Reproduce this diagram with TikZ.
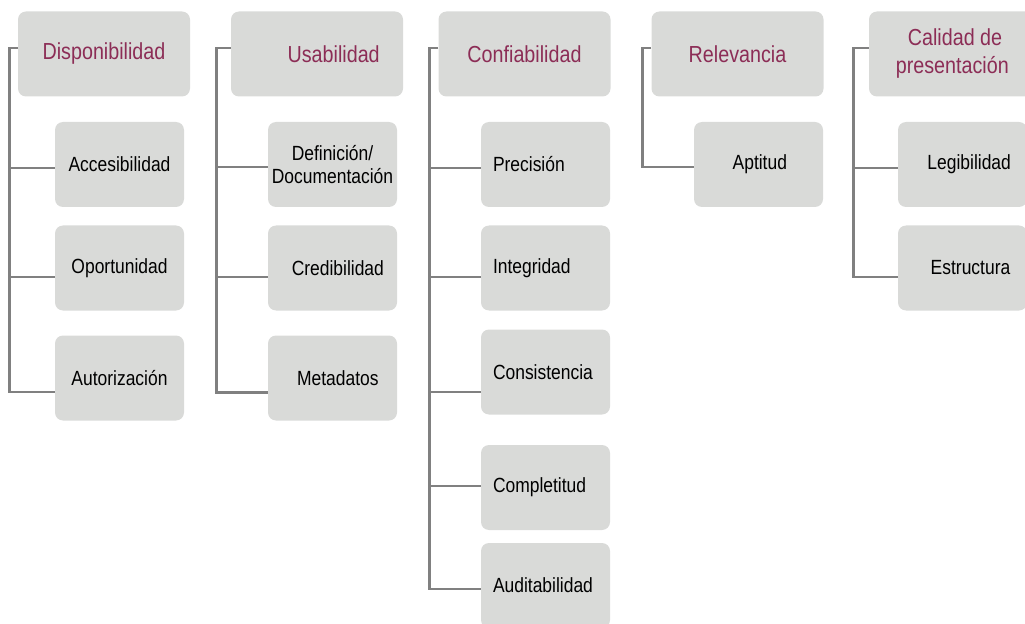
\documentclass[tikz,border=0pt]{standalone}
\usepackage{fontspec}
\setmainfont{Liberation Sans}[FakeStretch=0.85]
\definecolor{boxgray}{HTML}{D9DAD8}
\definecolor{linegray}{HTML}{808080}
\definecolor{maroon}{HTML}{8C2D56}
\tikzset{
  titlebox/.style={rectangle,rounded corners=6pt,fill=boxgray,minimum width=129pt,minimum height=63.75pt,
    inner sep=0pt,align=center,text=maroon,font=\fontsize{17.4}{21}\selectfont},
  itembox/.style={rectangle,rounded corners=6pt,fill=boxgray,minimum width=96.75pt,minimum height=63.75pt,
    inner sep=0pt,align=center,font=\fontsize{15.4}{17.4}\selectfont},
  leftbox/.style={itembox,text width=78.75pt,inner xsep=9pt,align=left},
  conn/.style={draw=linegray,line width=2pt}
}
\begin{document}
\begin{tikzpicture}[x=0.75pt,y=-0.75pt]
\useasboundingbox (0,0) rectangle (1025,624);
% Disponibilidad
\node[titlebox] (dispo) at (104,54) {Disponibilidad};
\node[itembox] (acc) at (119.5,164.5) {Accesibilidad};
\node[itembox] (opo) at (119.5,268) {Oportunidad};
\node[itembox] (aut) at (119.5,378) {Autorización};
% Usabilidad
\node[titlebox] (usab) at (317,54) {\hspace*{25pt}Usabilidad};
\node[itembox] (defi) at (332.5,164.5) {Definición/\\Documentación};
\node[itembox] (cred) at (332.5,268) {\hspace*{8pt}Credibilidad};
\node[itembox] (meta) at (332.5,378) {\hspace*{8pt}Metadatos};
% Confiabilidad
\node[titlebox] (conf) at (524.5,54) {Confiabilidad};
\node[leftbox] (prec) at (545.5,164.5) {Precisión};
\node[leftbox] (integ) at (545.5,268) {Integridad};
\node[leftbox] (consis) at (545.5,372) {Consistencia};
\node[leftbox] (compl) at (545.5,487.5) {Completitud};
\node[leftbox] (audit) at (545.5,585.5) {Auditabilidad};
% Relevancia
\node[titlebox] (relev) at (737.5,54) {Relevancia};
\node[itembox] (apt) at (758.5,164.5) {\hspace*{2pt}Aptitud};
% Calidad de presentacion
\node[titlebox] (cal) at (955,54) {Calidad de\\presentación\hspace*{4pt}};
\node[itembox] (leg) at (962.5,164.5) {\hspace*{10pt}Legibilidad};
\node[itembox] (est) at (962.5,268) {\hspace*{12pt}Estructura};

% connectors
\draw[conn] ([yshift=4.5pt]dispo.west) -- ++(-8,0) |- ([yshift=-10.5pt]aut.west);
\foreach \n/\d in {acc/-2.6pt,opo/-6.8pt}
  \draw[conn] ([yshift=\d]\n.west) -- ++(-45,0);
\draw[conn] ([yshift=4.5pt]usab.west) -- ++(-14,0) |- ([yshift=-11pt]meta.west);
\foreach \n/\d in {defi/-1.9pt,cred/-6.8pt}
  \draw[conn] ([yshift=\d]\n.west) -- ++(-51,0);
\draw[conn] ([yshift=4.5pt]conf.west) -- ++(-9,0) |- ([yshift=-2.6pt]audit.west);
\foreach \n/\d in {prec/-2.6pt,integ/-6.8pt,consis/-15pt,compl/1.1pt}
  \draw[conn] ([yshift=\d]\n.west) -- ++(-51,0);
\draw[conn] ([yshift=4.5pt]relev.west) -- ++(-9,0) |- ([yshift=-1.9pt]apt.west);
\draw[conn] ([yshift=4.5pt]cal.west) -- ++(-15,0) |- ([yshift=-6.8pt]est.west);
\draw[conn] ([yshift=-2.6pt]leg.west) -- ++(-43,0);
\end{tikzpicture}
\end{document}
